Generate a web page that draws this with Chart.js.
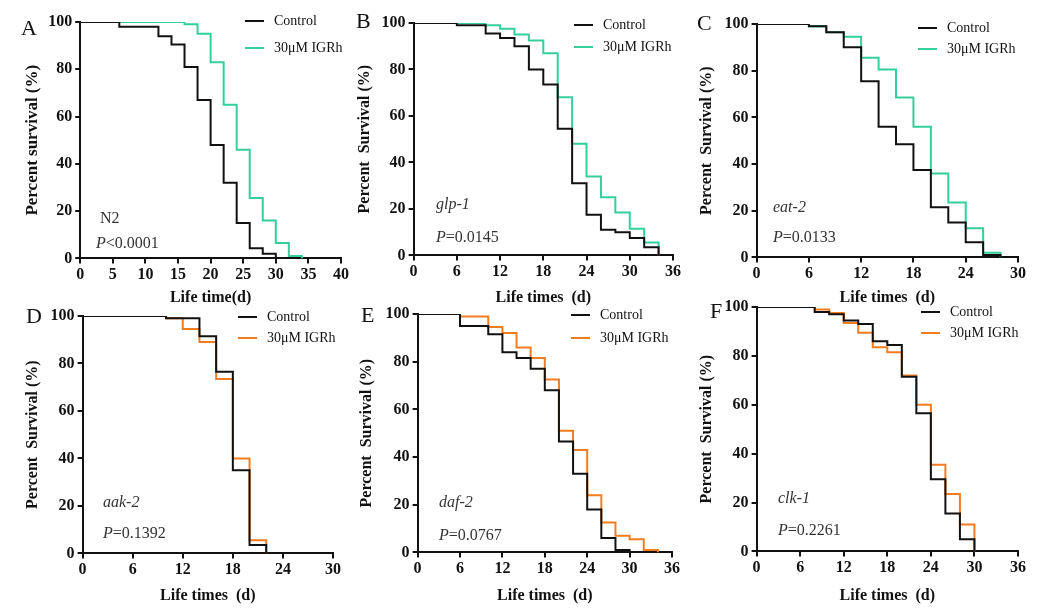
<!DOCTYPE html>
<html>
<head>
<meta charset="utf-8">
<script src="https://cdn.jsdelivr.net/npm/chart.js@4.4.0/dist/chart.umd.min.js"></script>
<style>
  body { margin: 0; background: #fff; width: 1056px; height: 614px; overflow: hidden; position: relative;
         font-family: "Liberation Serif", "DejaVu Serif", serif; }
  canvas { position: absolute; }
  .t { position: absolute; white-space: nowrap; color: #222; line-height: 1; }
  .letter { font-size: 22px; color: #111; }
  .leg { font-size: 14px; color: #111; }
  .sw { position: absolute; height: 2px; }
  .note { font-size: 16px; color: #333; }
  .note i { font-style: italic; }
</style>
</head>
<body>
<script>
// survival data, time (days) and percent surviving after each drop
var daysA_ctl = [0, 6, 12, 14, 16, 18, 20, 22, 24, 26, 28, 30];
var survA_ctl = [100, 98, 94, 90.5, 81, 67, 48, 32, 15, 4.3, 2, 0];
var daysA_igr = [0, 16, 18, 20, 22, 24, 26, 28, 30, 32, 34];
var survA_igr = [100, 99, 95, 83, 65, 46, 25.5, 16, 6.5, 1, 0];

var daysB_ctl = [0, 6, 10, 12, 14, 16, 18, 20, 22, 24, 26, 28, 30, 32, 34];
var survB_ctl = [100, 99, 95.5, 93.5, 90, 80, 73.5, 54.5, 31, 17.5, 11, 10, 7.5, 3.5, 0];
var daysB_igr = [0, 10, 12, 14, 16, 18, 20, 22, 24, 26, 28, 30, 32, 34];
var survB_igr = [100, 99, 97.5, 95, 92.5, 87, 68, 48, 34, 25, 18.5, 11.5, 5.5, 0];

var daysC_ctl = [0, 6, 8, 10, 12, 14, 16, 18, 20, 22, 24, 26, 28];
var survC_ctl = [100, 99, 96.5, 90, 75.5, 56, 48.5, 37.5, 21.5, 15, 6.5, 1, 0];
var daysC_igr = [0, 6, 8, 10, 12, 14, 16, 18, 20, 22, 24, 26, 28];
var survC_igr = [100, 99, 96.5, 94.5, 85.5, 80.5, 68.5, 56, 36, 23.5, 12.5, 2, 0];

var daysD_ctl = [0, 10, 14, 16, 18, 20, 22];
var survD_ctl = [100, 99, 91.5, 76.5, 35, 3.5, 0];
var daysD_igr = [0, 10, 12, 14, 16, 18, 20, 22];
var survD_igr = [100, 99, 94.5, 89, 73.5, 40, 5.5, 0];

var daysE_ctl = [0, 6, 10, 12, 14, 16, 18, 20, 22, 24, 26, 28, 30];
var survE_ctl = [100, 95, 91.5, 84, 81.5, 77, 68, 46.5, 33, 18, 6, 1, 0];
var daysE_igr = [0, 6, 10, 12, 14, 16, 18, 20, 22, 24, 26, 28, 30, 32, 34];
var survE_igr = [100, 99, 94.5, 92, 86, 81.5, 72.5, 51, 43, 24, 12.5, 7, 5.5, 1, 0];

var daysF_ctl = [0, 8, 10, 12, 14, 16, 18, 20, 22, 24, 26, 28, 30];
var survF_ctl = [100, 98, 97, 94.5, 93, 86, 84.5, 71.5, 56.5, 29.5, 15.5, 5, 0];
var daysF_igr = [0, 8, 10, 12, 14, 16, 18, 20, 22, 24, 26, 28, 30];
var survF_igr = [100, 99, 97.5, 93.5, 89.5, 83.5, 81.5, 72, 60, 35.5, 23.5, 11, 0];

var seriesNames = ["Control", "30\u03bcM IGRh"];
var yTicks = [0, 20, 40, 60, 80, 100];

function toPoints(days, surv) {
    return days.map(function (d, i) { return { x: d, y: surv[i] }; });
}

// layout of each panel: plot area [left, top, right, bottom] in page px
var panels = [
    { id: "A", ctl: [daysA_ctl, survA_ctl], igr: [daysA_igr, survA_igr], color: "#33cf9c",
      xMax: 40, xStep: 5, yTitle: "Percent survival (%)", xTitle: "Life time(d)",
      area: [80, 22, 341, 258], yTitleX: 32, xTitleY: 297, yTitleSize: 17,
      letter: [21, 17], leg: [245, 21, 48], gene: "N2", geneItalic: false, p: "<0.0001",
      note: [96, 218, 243] },
    { id: "B", ctl: [daysB_ctl, survB_ctl], igr: [daysB_igr, survB_igr], color: "#33cf9c",
      xMax: 36, xStep: 6, yTitle: "Percent  Survival (%)", xTitle: "Life times  (d)",
      area: [414, 23, 673, 255], yTitleX: 365, xTitleY: 297, yTitleSize: 16,
      letter: [356, 10], leg: [574, 25, 47], gene: "glp-1", geneItalic: true, p: "=0.0145",
      note: [436, 204, 237] },
    { id: "C", ctl: [daysC_ctl, survC_ctl], igr: [daysC_igr, survC_igr], color: "#33cf9c",
      xMax: 30, xStep: 6, yTitle: "Percent  Survival (%)", xTitle: "Life times  (d)",
      area: [757, 24, 1018, 257], yTitleX: 707, xTitleY: 297, yTitleSize: 16,
      letter: [697, 12], leg: [918, 28, 49], gene: "eat-2", geneItalic: true, p: "=0.0133",
      note: [773, 207, 237] },
    { id: "D", ctl: [daysD_ctl, survD_ctl], igr: [daysD_igr, survD_igr], color: "#f47c20",
      xMax: 30, xStep: 6, yTitle: "Percent  Survival (%)", xTitle: "Life times  (d)",
      area: [83, 316, 333, 553], yTitleX: 33, xTitleY: 595, yTitleSize: 16,
      letter: [26, 305], leg: [238, 317, 338], gene: "aak-2", geneItalic: true, p: "=0.1392",
      note: [103, 502, 533] },
    { id: "E", ctl: [daysE_ctl, survE_ctl], igr: [daysE_igr, survE_igr], color: "#f47c20",
      xMax: 36, xStep: 6, yTitle: "Percent  Survival (%)", xTitle: "Life times  (d)",
      area: [418, 314, 672, 552], yTitleX: 367, xTitleY: 595, yTitleSize: 16,
      letter: [361, 304], leg: [571, 315, 338], gene: "daf-2", geneItalic: true, p: "=0.0767",
      note: [439, 502, 535] },
    { id: "F", ctl: [daysF_ctl, survF_ctl], igr: [daysF_igr, survF_igr], color: "#f47c20",
      xMax: 36, xStep: 6, yTitle: "Percent  Survival (%)", xTitle: "Life times  (d)",
      area: [757, 307, 1018, 551], yTitleX: 707, xTitleY: 595, yTitleSize: 16,
      letter: [710, 300], leg: [921, 312, 333], gene: "clk-1", geneItalic: true, p: "=0.2261",
      note: [778, 498, 530] }
];

function addText(cls, x, y, html) {
    var el = document.createElement("div");
    el.className = "t " + cls;
    el.style.left = x + "px";
    el.style.top = y + "px";
    el.innerHTML = html;
    document.body.appendChild(el);
    return el;
}

function addSwatch(x, y, w, color) {
    var el = document.createElement("div");
    el.className = "sw";
    el.style.left = x + "px";
    el.style.top = (y - 1) + "px";
    el.style.width = w + "px";
    el.style.background = color;
    document.body.appendChild(el);
}

function drawPanel(p) {
    var padTop = 14, padRight = 20;
    var titleLH = p.yTitleSize * 1.2;
    var canvasLeft = p.yTitleX - titleLH / 2 - 4;
    var yW = p.area[0] - canvasLeft;
    var xLH = 16 * 1.2;
    var xH = p.xTitleY - p.area[3] + xLH / 2 + 2;
    var w = Math.round(yW + (p.area[2] - p.area[0]) + padRight);
    var h = Math.round(padTop + (p.area[3] - p.area[1]) + xH + 2);

    var canvas = document.createElement("canvas");
    canvas.width = w;
    canvas.height = h;
    canvas.style.left = canvasLeft + "px";
    canvas.style.top = (p.area[1] - padTop) + "px";
    canvas.style.width = w + "px";
    canvas.style.height = h + "px";
    document.body.appendChild(canvas);

    var tickFont = { family: "Liberation Serif", size: 16, weight: "bold" };

    new Chart(canvas, {
        type: "line",
        data: {
            datasets: [
                {
                    label: seriesNames[0],
                    data: toPoints(p.ctl[0], p.ctl[1]),
                    borderColor: "#111111",
                    borderWidth: 2,
                    stepped: "before",
                    pointRadius: 0,
                    fill: false
                },
                {
                    label: seriesNames[1],
                    data: toPoints(p.igr[0], p.igr[1]),
                    borderColor: p.color,
                    borderWidth: 2,
                    stepped: "before",
                    pointRadius: 0,
                    fill: false
                }
            ]
        },
        options: {
            responsive: false,
            animation: false,
            devicePixelRatio: 1,
            layout: { padding: { left: 0, top: padTop, right: padRight, bottom: 2 } },
            plugins: { legend: { display: false }, tooltip: { enabled: false } },
            scales: {
                x: {
                    type: "linear",
                    min: 0,
                    max: p.xMax,
                    grid: { drawOnChartArea: false, color: "#111", lineWidth: 2, tickLength: 5 },
                    border: { color: "#111", width: 2 },
                    ticks: { stepSize: p.xStep, color: "#111", font: tickFont, padding: 2, maxRotation: 0 },
                    title: {
                        display: true, text: p.xTitle, color: "#111",
                        font: { family: "Liberation Serif", size: 16, weight: "bold" },
                        padding: { top: 0, bottom: 2 }
                    },
                    afterFit: function (s) { s.height = xH; s.paddingLeft = 0; s.paddingRight = 0; }
                },
                y: {
                    min: 0,
                    max: 100,
                    afterBuildTicks: function (s) { s.ticks = yTicks.map(function (v) { return { value: v }; }); },
                    grid: { drawOnChartArea: false, color: "#111", lineWidth: 2, tickLength: 5 },
                    border: { color: "#111", width: 2 },
                    ticks: { color: "#111", font: tickFont, padding: 3 },
                    title: {
                        display: true, text: p.yTitle, color: "#111",
                        font: { family: "Liberation Serif", size: p.yTitleSize, weight: "bold" },
                        padding: { top: 4, bottom: 0 }
                    },
                    afterFit: function (s) { s.width = yW; s.paddingTop = 0; s.paddingBottom = 0; }
                }
            }
        }
    });

    addText("letter", p.letter[0], p.letter[1], p.id);
    addSwatch(p.leg[0], p.leg[1], 19, "#111");
    addSwatch(p.leg[0], p.leg[2], 19, p.color);
    addText("leg", p.leg[0] + 29, p.leg[1] - 7, seriesNames[0]);
    addText("leg", p.leg[0] + 29, p.leg[2] - 7, seriesNames[1]);
    var gene = p.geneItalic ? "<i>" + p.gene + "</i>" : p.gene;
    addText("note", p.note[0] + (p.geneItalic ? 0 : 4), p.note[1] - 8, gene);
    addText("note", p.note[0], p.note[2] - 8, "<i>P</i>" + p.p);
}

panels.forEach(drawPanel);
</script>
</body>
</html>
